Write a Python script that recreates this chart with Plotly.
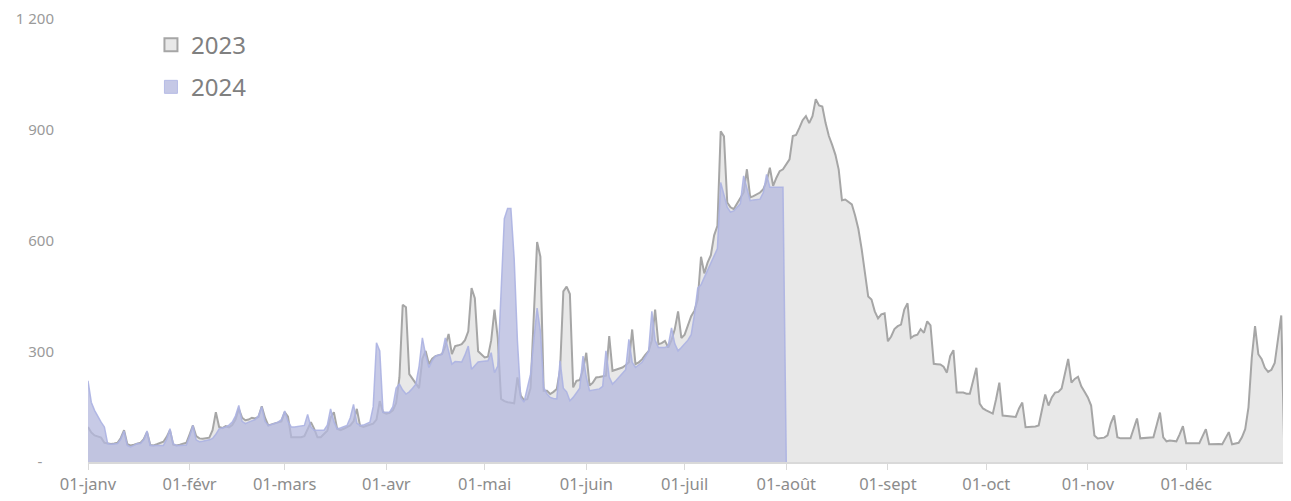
import plotly.graph_objects as go
import pandas as pd

# ---- data (daily values; plotted on a 2024 calendar) ----
month_ticks = ["2024-01-01", "2024-02-01", "2024-03-01", "2024-04-01", "2024-05-01", "2024-06-01",
               "2024-07-01", "2024-08-01", "2024-09-01", "2024-10-01", "2024-11-01", "2024-12-01"]
month_labels = ["01-janv", "01-févr", "01-mars", "01-avr", "01-mai", "01-juin",
                "01-juil", "01-août", "01-sept", "01-oct", "01-nov", "01-déc"]

y_tickvals = [0, 300, 600, 900, 1200]
y_ticktext = ["-\u00a0\u00a0\u00a0", "300", "600", "900", "1 200"]

values_2023 = [
    # janv
    95, 80, 72, 68, 66, 52, 50, 49, 50, 52, 65, 86, 48, 45, 47, 50, 52, 62, 81, 46, 45, 48, 52, 55, 68, 86, 47, 45, 47, 50, 52,
    # févr (29)
    75, 99, 70, 64, 63, 64, 66, 86, 135, 95, 92, 97, 94, 100, 115, 144, 120, 113, 115, 120, 118, 122, 151, 120, 99, 102, 105, 107, 110,
    # mars
    135, 123, 67, 67, 68, 67, 70, 90, 108, 90, 67, 67, 77, 85, 120, 135, 90, 86, 90, 95, 99, 110, 144, 98, 95, 98, 100, 104, 115, 165, 135,
    # avr
    131, 133, 140, 160, 229, 426, 419, 238, 225, 210, 200, 280, 301, 265, 280, 287, 290, 292, 314, 347, 292, 314, 316, 319, 330, 354, 471, 444, 300, 292,
    # mai
    283, 285, 330, 413, 336, 171, 165, 162, 160, 159, 229, 180, 168, 170, 200, 420, 596, 556, 193, 193, 184, 190, 198, 250, 462, 475, 455, 202, 220, 222, 250,
    # juin
    296, 207, 215, 229, 230, 232, 234, 341, 247, 250, 253, 256, 262, 270, 359, 265, 270, 278, 290, 300, 330, 413, 319, 322, 328, 310, 330, 360, 408, 336,
    # juil
    345, 370, 395, 410, 440, 556, 511, 540, 560, 614, 640, 896, 882, 703, 690, 685, 700, 712, 730, 793, 717, 720, 725, 730, 739, 760, 797, 748, 770, 788, 793,
    # août
    806, 820, 883, 886, 905, 926, 937, 918, 937, 983, 966, 963, 918, 883, 859, 832, 792, 709, 711, 705, 698, 668, 631, 577, 515, 448, 440, 408, 389, 400, 403,
    # sept
    327, 340, 360, 368, 372, 413, 430, 336, 342, 345, 360, 350, 381, 370, 266, 265, 264, 258, 242, 287, 303, 188, 188, 188, 185, 185, 220, 255, 158, 145,
    # oct
    140, 135, 131, 170, 215, 126, 125, 124, 124, 122, 145, 161, 94, 94, 94, 96, 99, 145, 183, 153, 175, 188, 190, 199, 240, 279, 215, 225, 231, 205, 190,
    # nov
    175, 153, 72, 64, 64, 66, 72, 105, 126, 67, 64, 63, 64, 64, 90, 118, 64, 65, 66, 66, 67, 100, 134, 67, 56, 58, 58, 56, 75, 97,
    # déc
    51, 51, 51, 51, 51, 70, 89, 48, 49, 50, 49, 48, 65, 81, 48, 50, 52, 67, 89, 148, 282, 368, 292, 279, 255, 244, 250, 268, 336, 397, 0,
]

values_2024 = [
    # janv
    220, 162, 140, 122, 108, 95, 50, 48, 48, 50, 62, 84, 45, 41, 45, 50, 50, 60, 84, 45, 45, 45, 45, 45, 62, 90, 50, 45, 45, 45, 46,
    # févr
    70, 99, 60, 55, 56, 57, 60, 64, 75, 90, 92, 95, 100, 108, 125, 153, 110, 104, 108, 112, 115, 125, 150, 110, 99, 102, 105, 108, 115,
    # mars
    138, 110, 95, 95, 96, 97, 99, 129, 95, 86, 86, 86, 86, 100, 144, 110, 90, 92, 95, 99, 120, 156, 105, 99, 100, 104, 108, 150, 323, 301, 135,
    # avr
    135, 135, 150, 200, 211, 195, 184, 190, 200, 211, 260, 336, 290, 256, 275, 287, 290, 292, 336, 300, 265, 272, 272, 271, 290, 314, 251, 262, 271, 272,
    # mai
    273, 274, 296, 242, 260, 450, 659, 687, 687, 551, 328, 175, 162, 200, 238, 330, 417, 354, 202, 185, 175, 172, 171, 274, 200, 190, 166, 175, 189, 200, 287,
    # juin
    230, 193, 195, 196, 198, 205, 301, 230, 211, 220, 230, 242, 250, 332, 270, 256, 262, 270, 285, 300, 408, 330, 310, 310, 310, 315, 363, 320, 301, 310,
    # juil
    320, 330, 345, 400, 471, 480, 500, 520, 542, 560, 578, 757, 720, 690, 677, 680, 690, 700, 775, 740, 708, 710, 712, 712, 730, 779, 744, 744, 744, 744, 744,
    # 01-août
    0,
]

dates_2023 = pd.date_range("2024-01-01", periods=len(values_2023), freq="D")
dates_2024 = pd.date_range("2024-01-01", periods=len(values_2024), freq="D")

GREY_FILL = "#e8e8e8"
GREY_LINE = "#a6a6a6"
BLUE_FILL = "rgba(180,184,222,0.75)"
BLUE_LINE = "rgba(172,178,226,0.9)"
FONT = "Noto Sans, Open Sans, sans-serif"

fig = go.Figure()
fig.add_trace(go.Scatter(x=dates_2023, y=values_2023, mode="lines", fill="tozeroy",
                         fillcolor=GREY_FILL, line=dict(color=GREY_LINE, width=2),
                         name="2023", showlegend=False, hoverinfo="x+y"))
fig.add_trace(go.Scatter(x=dates_2024, y=values_2024, mode="lines", fill="tozeroy",
                         fillcolor=BLUE_FILL, line=dict(color=BLUE_LINE, width=1.5),
                         name="2024", showlegend=False, hoverinfo="x+y"))

# legend entries (square swatches)
fig.add_trace(go.Scatter(x=[None], y=[None], mode="markers", name="2023", legendgroup="a",
                         marker=dict(symbol="square", size=13, color=GREY_FILL,
                                     line=dict(color=GREY_LINE, width=2))))
fig.add_trace(go.Scatter(x=[None], y=[None], mode="markers", name="2024", legendgroup="b",
                         marker=dict(symbol="square", size=13, color="#c5c8e6",
                                     line=dict(color="#b6bbe6", width=1))))

# the page body has an 8px margin: size the figure so the plot area lands where the reference has it
fig.update_layout(
    width=1283, height=493,
    margin=dict(l=80, r=4, t=11, b=39),
    paper_bgcolor="white", plot_bgcolor="white",
    font=dict(family=FONT, color="#8c8c8c", size=16),
    showlegend=True,
    legend=dict(x=0.0525, y=0.992, xanchor="left", yanchor="top",
                font=dict(size=24, color="#808080", family=FONT),
                traceorder="grouped", tracegroupgap=8, bgcolor="rgba(0,0,0,0)"),
    xaxis=dict(type="date", range=["2024-01-01", "2024-12-31 18:00"],
               tickvals=month_ticks, ticktext=month_labels, automargin=False,
               showgrid=False, zeroline=False,
               showline=True, linecolor="#d9d9d9", linewidth=2,
               ticks="outside", ticklen=6, tickcolor="#d9d9d9", tickwidth=1,
               ticklabeloverflow="allow",
               tickfont=dict(size=16.5, color="#8c8c8c")),
    yaxis=dict(range=[0, 1200], tickvals=y_tickvals, ticktext=y_ticktext, automargin=False,
               showgrid=False, zeroline=False, showline=False,
               ticks="", ticklabelstandoff=33, ticklabeloverflow="allow",
               tickfont=dict(size=15, color="#9a9a9a")),
    hovermode="x",
)

fig.write_html("out.html")
